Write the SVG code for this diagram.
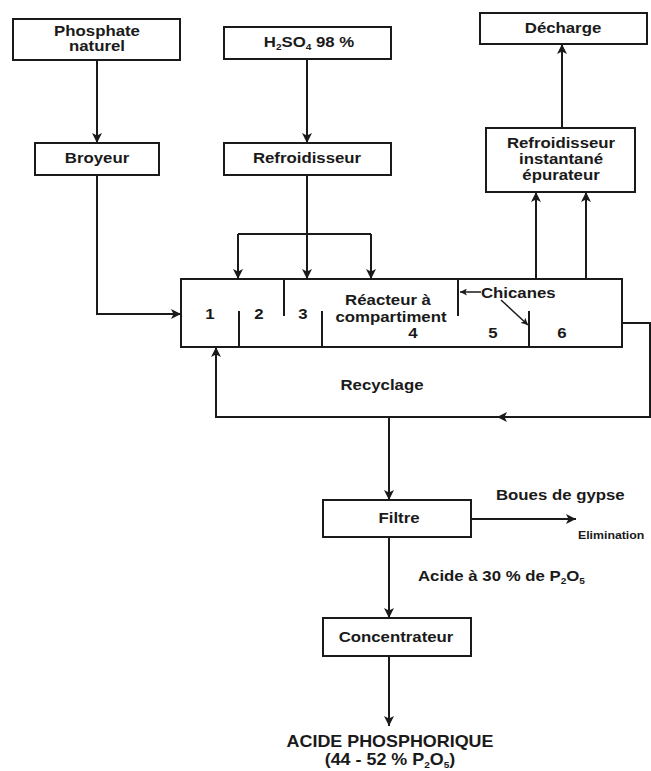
<svg xmlns="http://www.w3.org/2000/svg" width="651" height="771" viewBox="0 0 651 771">
  <style>
    .box { fill: #fff; stroke: #1a1a1a; stroke-width: 2; }
    .ln { fill: none; stroke: #1a1a1a; stroke-width: 2; }
    .ar { marker-end: url(#arr); }
    .sm { fill: none; stroke: #1a1a1a; stroke-width: 1.5; marker-end: url(#arrS); }
    text { font-family: "Liberation Sans", Arial, sans-serif; font-weight: bold; font-size: 15px; fill: #1a1a1a; text-anchor: middle; }
    .st { text-anchor: start; }
    .sub { font-size: 9px; }
  </style>
  <defs>
    <marker id="arr" viewBox="0 0 10 10" refX="10" refY="5" markerWidth="10" markerHeight="10" orient="auto" markerUnits="userSpaceOnUse">
      <path d="M0,0 L10,5 L0,10 L2.5,5 z" fill="#1a1a1a"/>
    </marker>
    <marker id="arrS" viewBox="0 0 10 10" refX="10" refY="5" markerWidth="7" markerHeight="7" orient="auto" markerUnits="userSpaceOnUse">
      <path d="M0,0 L10,5 L0,10 L2.5,5 z" fill="#1a1a1a"/>
    </marker>
  </defs>

  <rect width="651" height="771" fill="#fff"/>

  <g id="phosphate">
    <rect class="box" x="13" y="19" width="167" height="41"/>
    <text transform="translate(97,36) scale(1.12,1)">Phosphate</text>
    <text transform="translate(97,51) scale(1.12,1)">naturel</text>
  </g>

  <g id="acide-sulfurique">
    <rect class="box" x="224" y="27" width="167" height="32"/>
    <text transform="translate(309,47) scale(1.12,1)">H<tspan class="sub" dy="3">2</tspan><tspan dy="-3">SO</tspan><tspan class="sub" dy="3">4</tspan><tspan dy="-3"> 98 %</tspan></text>
  </g>

  <g id="broyeur">
    <rect class="box" x="35" y="143" width="124" height="32"/>
    <text transform="translate(97,163) scale(1.12,1)">Broyeur</text>
  </g>

  <g id="refroidisseur">
    <rect class="box" x="224" y="143" width="167" height="32"/>
    <text transform="translate(307,163) scale(1.12,1)">Refroidisseur</text>
  </g>

  <g id="decharge">
    <rect class="box" x="480" y="13" width="167" height="31"/>
    <text transform="translate(563,33) scale(1.12,1)">Décharge</text>
  </g>

  <g id="refroidisseur-instantane">
    <rect class="box" x="486" y="128" width="149" height="64"/>
    <text transform="translate(561,148) scale(1.12,1)">Refroidisseur</text>
    <text transform="translate(561,164) scale(1.12,1)">instantané</text>
    <text transform="translate(561,180) scale(1.12,1)">épurateur</text>
  </g>

  <g id="reacteur">
    <rect class="box" x="181" y="279" width="441" height="68"/>
    <!-- baffles between compartments -->
    <path class="ln" d="M239,311 V347 M284,279 V316 M322,311 V347 M458,279 V316 M529,311 V347"/>
    <text transform="translate(210,319) scale(1.12,1)">1</text>
    <text transform="translate(259,319) scale(1.12,1)">2</text>
    <text transform="translate(303,319) scale(1.12,1)">3</text>
    <text transform="translate(388,305) scale(1.12,1)">Réacteur à</text>
    <text transform="translate(391,322) scale(1.12,1)">compartiment</text>
    <text transform="translate(413,338) scale(1.12,1)">4</text>
    <text transform="translate(493,338) scale(1.12,1)">5</text>
    <text transform="translate(562,338) scale(1.12,1)">6</text>
    <text class="st" transform="translate(481,298) scale(1.12,1)">Chicanes</text>
    <path class="sm" d="M481,292 H460"/>
    <path class="sm" d="M501,300 L528,325"/>
  </g>

  <g id="recyclage">
    <text transform="translate(382,390) scale(1.12,1)">Recyclage</text>
  </g>

  <g id="filtre">
    <rect class="box" x="323" y="500" width="148" height="37"/>
    <text transform="translate(399,523) scale(1.12,1)">Filtre</text>
    <text class="st" transform="translate(496,500) scale(1.12,1)">Boues de gypse</text>
    <text class="st" style="font-size:11px" transform="translate(578,539) scale(1.12,1)">Elimination</text>
    <text class="st" transform="translate(418,581) scale(1.12,1)">Acide à 30 % de P<tspan class="sub" dy="3">2</tspan><tspan dy="-3">O</tspan><tspan class="sub" dy="3">5</tspan></text>
  </g>

  <g id="concentrateur">
    <rect class="box" x="323" y="618" width="148" height="38"/>
    <text transform="translate(396,642) scale(1.12,1)">Concentrateur</text>
  </g>

  <g id="produit">
    <text style="font-size:16px" transform="translate(390,747) scale(1.12,1)">ACIDE PHOSPHORIQUE</text>
    <text style="font-size:16px" transform="translate(390,765) scale(1.12,1)">(44 - 52 % P<tspan class="sub" dy="3">2</tspan><tspan dy="-3">O</tspan><tspan class="sub" dy="3">5</tspan><tspan dy="-3">)</tspan></text>
  </g>

  <!-- connectors, drawn last so they sit on top of box edges -->
  <g id="connectors">
    <path class="ln ar" d="M97,60 V143"/>
    <path class="ln ar" d="M97,175 V314 H181"/>
    <path class="ln ar" d="M307,59 V143"/>
    <path class="ln ar" d="M307,175 V279"/>
    <path class="ln" d="M238,234 H371"/>
    <path class="ln ar" d="M238,234 V279"/>
    <path class="ln ar" d="M371,234 V279"/>
    <path class="ln ar" d="M536,279 V192"/>
    <path class="ln ar" d="M586,279 V192"/>
    <path class="ln ar" d="M562,128 V44"/>
    <path class="ln ar" d="M622,323 H650 V417 H497"/>
    <path class="ln ar" d="M497,417 H216 V347"/>
    <path class="ln ar" d="M389,417 V500"/>
    <path class="ln ar" d="M471,519 H576"/>
    <path class="ln ar" d="M389,537 V618"/>
    <path class="ln ar" d="M389,656 V726"/>
  </g>
</svg>
